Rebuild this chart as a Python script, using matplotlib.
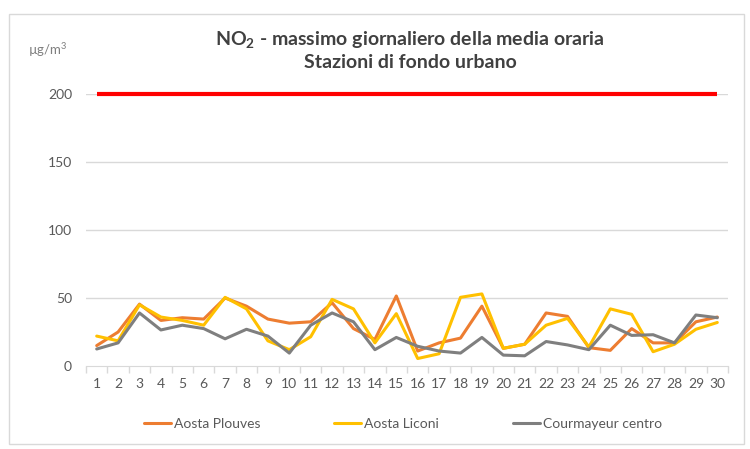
import matplotlib
matplotlib.use("Agg")
import matplotlib.pyplot as plt
from matplotlib.patches import Rectangle

plt.rcParams['font.family'] = ['Lato', 'DejaVu Sans']
plt.rcParams['mathtext.fontset'] = 'custom'
plt.rcParams['mathtext.rm'] = 'Lato'
plt.rcParams['mathtext.bf'] = 'Lato:bold'

days = list(range(1, 31))
plouves = [15, 25, 45.5, 33.5, 35.5, 34.5, 50, 44, 34.5, 31.5, 32.5, 46.5, 27.5, 19.5, 51.5,
           11, 17, 20.5, 44, 13, 16, 39, 36.5, 13.5, 11.5, 27.5, 17, 17, 32.5, 36]
liconi = [22, 18.5, 45, 36, 33.5, 30, 50.5, 42, 18.5, 12, 21.5, 49, 42, 17, 38.5,
          5.5, 9, 50.5, 53, 13, 16, 30, 35, 14, 42, 38, 10.5, 16, 27, 32]
courmayeur = [12.5, 17, 39, 26.5, 30, 27.5, 20, 27, 22, 9.5, 30, 39, 32.5, 12, 21,
              14.5, 11, 9.5, 21, 8, 7.5, 18, 15.5, 12, 30, 22.5, 23, 17, 37.5, 35.5]
limit = 200
series_names = ["Aosta Plouves", "Aosta Liconi", "Courmayeur centro"]
colors = ["#ED7D31", "#FFC000", "#7F7F7F"]
yticks = [0, 50, 100, 150, 200]

fig = plt.figure(figsize=(7.5, 4.49), dpi=100)
fig.patches.append(Rectangle((9/750, 5/449), 735/750, 430/449, transform=fig.transFigure,
                             fill=False, edgecolor="#D9D9D9", linewidth=1))
ax = fig.add_axes([86/750, 83/449, 642/750, 272/449])

for y in yticks[1:]:
    ax.axhline(y, color="#D9D9D9", linewidth=1, zorder=0)
ax.plot([days[0], days[-1]], [limit, limit], color="#FF0000", linewidth=3, clip_on=False, zorder=3,
        solid_capstyle='butt')

lines = []
for data, c, name in zip([plouves, liconi, courmayeur], colors, series_names):
    l, = ax.plot(days, data, color=c, linewidth=2.2, label=name, solid_capstyle='round')
    lines.append(l)

ax.set_xlim(0.5, 30.5)
ax.set_ylim(0, 200)
ax.set_yticks(yticks)
ax.set_xticks(days)
ax.set_xticklabels([str(d) for d in days])
ax.set_xticks([d + 0.5 for d in range(0, 31)], minor=True)
ax.tick_params(axis='x', which='major', length=0, pad=9, labelsize=10, labelcolor="#595959")
ax.tick_params(axis='x', which='minor', length=5, color="#D9D9D9", width=1)
ax.tick_params(axis='y', length=0, pad=10, labelsize=10, labelcolor="#595959")
for s in ['top', 'right', 'left']:
    ax.spines[s].set_visible(False)
ax.spines['bottom'].set_color("#D9D9D9")

fig.text(410/750, 1 - 40/449, r"NO$_\mathbf{2}$ - massimo giornaliero della media oraria", ha='center', va='center',
         fontsize=14, color="#404040", fontweight='bold')
fig.text(410/750, 1 - 63/449, "Stazioni di fondo urbano", ha='center', va='center',
         fontsize=14, color="#404040", fontweight='bold')
fig.text(48/750, 1 - 50/449, "µg/m$^3$", ha='center', va='center', fontsize=9.5, color="#7F7F7F")

fig.legend(handles=lines, loc='center', bbox_to_anchor=(403/750, 1 - 424/449), ncol=3, frameon=False,
           fontsize=10, labelcolor="#595959", handlelength=1.95, handletextpad=0.2, columnspacing=5.3)

fig.savefig("out.png", dpi=100)
